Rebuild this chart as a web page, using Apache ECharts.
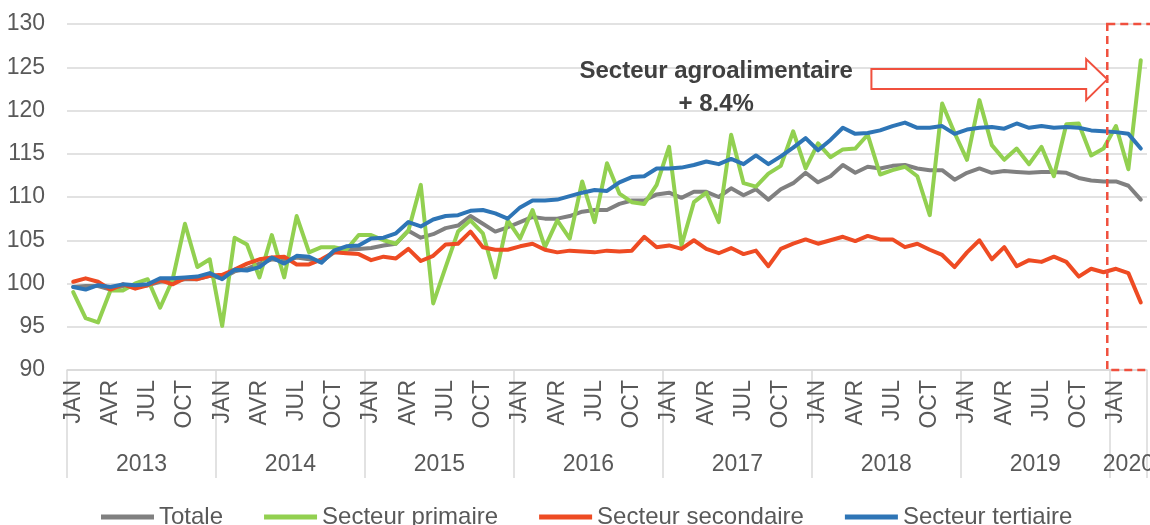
<!DOCTYPE html>
<html>
<head>
<meta charset="utf-8">
<script src="https://cdn.jsdelivr.net/npm/echarts@6/dist/echarts.min.js"></script>
<style>
  html, body { margin: 0; padding: 0; background: #ffffff; }
  #chart { width: 1150px; height: 525px; }
</style>
</head>
<body>
<div id="chart"></div>
<script>
// ---- Data ----
const years = ['2013', '2014', '2015', '2016', '2017', '2018', '2019', '2020'];
const monthsPerYear = [12, 12, 12, 12, 12, 12, 12, 3];
const monthLabels = ['JAN', 'FEV', 'MAR', 'AVR', 'MAI', 'JUN', 'JUL', 'AOU', 'SEP', 'OCT', 'NOV', 'DEC'];
const yTicks = { min: 90, max: 130, interval: 5 };

const totale = [
  99.6, 99.7, 99.7, 99.3, 99.7, 99.6, 99.8, 100.2, 100.3, 100.5, 100.5, 100.9,
  100.6, 101.4, 101.7, 102.3, 102.8, 102.6, 103.0, 102.8, 102.5, 103.6, 103.9, 104.0,
  104.1, 104.4, 104.6, 106.1, 105.3, 105.7, 106.4, 106.7, 107.8, 106.9, 106.0, 106.5,
  107.1, 107.7, 107.5, 107.5, 107.8, 108.3, 108.5, 108.5, 109.2, 109.6, 109.6, 110.3,
  110.5, 109.9, 110.6, 110.6, 110.0, 111.0, 110.2, 110.9, 109.7, 110.9, 111.6, 112.8,
  111.7, 112.4, 113.7, 112.8, 113.5, 113.3, 113.6, 113.7, 113.3, 113.1, 113.1, 112.0,
  112.8, 113.3, 112.8, 113.0, 112.9, 112.8, 112.9, 112.9, 112.8, 112.2, 111.9, 111.8,
  111.8, 111.3, 109.7
];
const primaire = [
  99.0, 96.0, 95.5, 99.2, 99.2, 100.0, 100.5, 97.2, 100.4, 106.9, 101.9, 102.8,
  95.1, 105.3, 104.5, 100.7, 105.6, 100.7, 107.8, 103.6, 104.2, 104.2, 103.9, 105.6,
  105.6, 105.0, 104.6, 106.1, 111.4, 97.7, 101.9, 106.0, 107.3, 105.8, 100.7, 107.3,
  105.2, 108.5, 104.2, 107.3, 105.2, 111.8, 107.1, 113.9, 110.4, 109.4, 109.2, 111.4,
  115.8, 104.4, 109.4, 110.5, 107.1, 117.2, 111.6, 111.2, 112.7, 113.6, 117.6, 113.3,
  116.2, 114.6, 115.5, 115.6, 117.2, 112.6, 113.1, 113.5, 112.4, 107.9, 120.8, 117.4,
  114.3, 121.2, 116.0, 114.3, 115.6, 113.8, 115.8, 112.4, 118.4, 118.5, 114.8, 115.6,
  118.2, 113.2, 125.8
];
const secondaire = [
  100.2, 100.6, 100.2, 99.3, 99.9, 99.4, 99.8, 100.4, 99.9, 100.6, 100.5, 100.9,
  101.0, 101.6, 102.3, 102.8, 103.0, 103.1, 102.2, 102.2, 102.8, 103.6, 103.5, 103.4,
  102.7, 103.1, 102.9, 104.0, 102.6, 103.2, 104.5, 104.6, 106.0, 104.2, 103.9, 103.9,
  104.3, 104.6, 103.9, 103.6, 103.8, 103.7, 103.6, 103.8, 103.7, 103.8, 105.4, 104.2,
  104.4, 104.0, 105.0, 104.0, 103.5, 104.1, 103.4, 103.8, 102.0, 104.0, 104.6, 105.1,
  104.6, 105.0, 105.4, 104.9, 105.5, 105.1, 105.1, 104.2, 104.6, 103.9, 103.3, 101.9,
  103.6, 105.0, 102.8, 104.2, 102.0, 102.7, 102.5, 103.1, 102.5, 100.8, 101.7, 101.3,
  101.7, 101.2, 97.8
];
const tertiaire = [
  99.6, 99.3, 99.8, 99.6, 99.9, 99.8, 99.9, 100.6, 100.6, 100.7, 100.8, 101.2,
  100.5, 101.6, 101.5, 101.9, 103.0, 102.3, 103.2, 103.1, 102.4, 103.8, 104.3, 104.4,
  105.2, 105.3, 105.8, 107.1, 106.6, 107.4, 107.8, 107.9, 108.4, 108.5, 108.1, 107.5,
  108.8, 109.6, 109.6, 109.7, 110.1, 110.5, 110.8, 110.7, 111.7, 112.3, 112.4, 113.3,
  113.3, 113.4, 113.7, 114.1, 113.8, 114.4, 113.8, 114.8, 113.8, 114.7, 115.7, 116.8,
  115.4, 116.6, 118.0, 117.3, 117.4, 117.7, 118.2, 118.6, 118.0, 118.0, 118.2, 117.3,
  117.8, 118.0, 118.1, 117.9, 118.5, 118.0, 118.2, 118.0, 118.1, 118.0, 117.7, 117.6,
  117.5, 117.3, 115.6
];
const seriesNames = ['Totale', 'Secteur primaire', 'Secteur secondaire', 'Secteur tertiaire'];
const annotationTitle = 'Secteur agroalimentaire';
const annotationValue = '+ 8.4%';

// ---- Derived axis data ----
const categories = [];
const yearBounds = [0];
const yearCenters = [];
years.forEach((y, yi) => {
  const start = yearBounds[yearBounds.length - 1];
  for (let m = 0; m < monthsPerYear[yi]; m++) categories.push(y + '-' + monthLabels[m]);
  yearBounds.push(start + monthsPerYear[yi]);
  yearCenters.push(start + monthsPerYear[yi] / 2);
});
const nMonths = categories.length;

const FONT = 'Liberation Sans, Arial, sans-serif';
const TXT = '#595959';
const GRIDC = '#d9d9d9';
const colors = ['#808080', '#92d050', '#ee4b23', '#2e75b6'];

const chart = echarts.init(document.getElementById('chart'), null, { renderer: 'canvas' });

const mkLine = (name, data, color) => ({
  name, type: 'line', data, xAxisIndex: 0, yAxisIndex: 0,
  symbol: 'none', smooth: false,
  lineStyle: { color, width: 4, join: 'round', cap: 'round' },
  itemStyle: { color },
  emphasis: { disabled: true }
});

chart.setOption({
  animation: false,
  backgroundColor: '#ffffff',
  color: colors,
  textStyle: { fontFamily: FONT },
  grid: { left: 67, right: 3, top: 24, bottom: 155, containLabel: false, outerBoundsMode: 'none' },
  legend: {
    left: 96, top: 500, itemWidth: 53, itemHeight: 5, itemGap: 41,
    icon: 'rect',
    textStyle: { fontSize: 24, color: TXT, fontFamily: FONT },
    data: seriesNames
  },
  xAxis: [
    {
      type: 'category', data: categories, boundaryGap: true, position: 'bottom',
      axisLine: { show: true, lineStyle: { color: GRIDC, width: 1.5 } },
      axisTick: { show: false },
      splitLine: { show: false },
      axisLabel: {
        interval: 2, rotate: 90, margin: 10, fontSize: 23, color: TXT, fontFamily: FONT,
        hideOverlap: false,
        formatter: (v, i) => monthLabels[i % 12]
      }
    },
    {
      type: 'value', min: 0, max: nMonths, position: 'bottom',
      axisLine: { show: false },
      splitLine: { show: false },
      axisTick: { show: true, customValues: yearBounds, length: 108, lineStyle: { color: GRIDC, width: 1.5 } },
      axisLabel: {
        show: true, customValues: yearCenters, margin: 83, fontSize: 23, color: TXT, fontFamily: FONT,
        hideOverlap: false,
        formatter: (v) => { const k = yearCenters.indexOf(v); return k >= 0 ? years[k] : ''; }
      }
    }
  ],
  yAxis: {
    type: 'value', min: yTicks.min, max: yTicks.max, interval: yTicks.interval,
    axisLine: { show: false }, axisTick: { show: false },
    splitLine: { show: true, lineStyle: { color: GRIDC, width: 1.5 } },
    axisLabel: { margin: 22, fontSize: 23, color: TXT, fontFamily: FONT }
  },
  series: [
    mkLine(seriesNames[0], totale, colors[0]),
    mkLine(seriesNames[1], primaire, colors[1]),
    mkLine(seriesNames[2], secondaire, colors[2]),
    mkLine(seriesNames[3], tertiaire, colors[3])
  ]
});

// ---- Annotations positioned through the axes' scales ----
const px = (v) => chart.convertToPixel({ xAxisIndex: 1 }, v);
const py = (v) => chart.convertToPixel({ yAxisIndex: 0 }, v);
const RED = '#f0503e';
const boxL = 83.8;
const arrow = { x0: 64.8, xh: 82.1, xt: 83.8, yBodyT: 124.8, yBodyB: 122.5, yHeadT: 125.95, yHeadB: 121.2, yTip: 123.6 };

chart.setOption({
  graphic: [
    {
      type: 'rect', z: 100,
      shape: { x: px(boxL), y: py(130), width: 80, height: py(90) - py(130) },
      style: { fill: 'none', stroke: RED, lineWidth: 2.5, lineDash: [8, 5] }
    },
    {
      type: 'polygon', z: 100,
      shape: { points: [
        [px(arrow.x0), py(arrow.yBodyT)], [px(arrow.xh), py(arrow.yBodyT)], [px(arrow.xh), py(arrow.yHeadT)],
        [px(arrow.xt), py(arrow.yTip)], [px(arrow.xh), py(arrow.yHeadB)], [px(arrow.xh), py(arrow.yBodyB)],
        [px(arrow.x0), py(arrow.yBodyB)]
      ] },
      style: { fill: '#ffffff', stroke: RED, lineWidth: 2 }
    },
    {
      type: 'text', z: 100, x: px(52.3), y: py(124.5),
      style: { text: annotationTitle, fill: '#404040', font: 'bold 24px ' + FONT, textAlign: 'center', textVerticalAlign: 'middle' }
    },
    {
      type: 'text', z: 100, x: px(52.3), y: py(120.7),
      style: { text: annotationValue, fill: '#404040', font: 'bold 24px ' + FONT, textAlign: 'center', textVerticalAlign: 'middle' }
    }
  ]
});
</script>
</body>
</html>
